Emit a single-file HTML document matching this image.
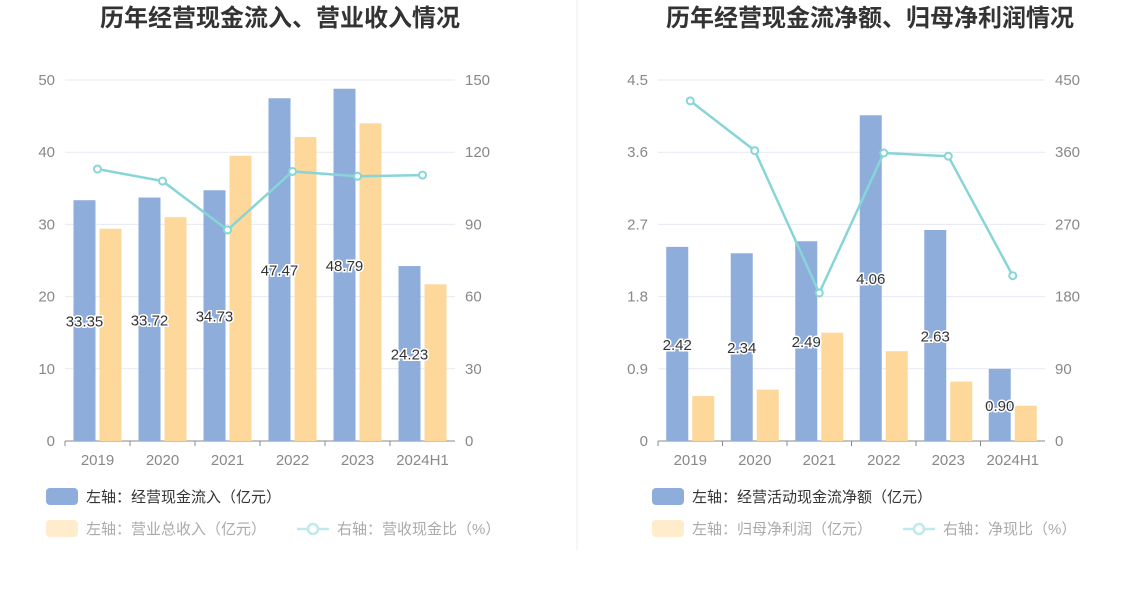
<!DOCTYPE html>
<html><head><meta charset="utf-8"><style>
body{margin:0;background:#fff;font-family:"Liberation Sans","Noto Sans CJK SC",sans-serif;}
svg{display:block}
</style></head><body>
<svg id="s" width="1147" height="589" xmlns="http://www.w3.org/2000/svg"></svg>
<script>
const cats=["2019","2020","2021","2022","2023","2024H1"];
const leftBlue=[33.35,33.72,34.73,47.47,48.79,24.23];
const leftYellow=[29.4,31.0,39.5,42.1,44.0,21.7];
const leftLine=[113,108,87.7,112,110,110.5];
const leftTicksL=["0","10","20","30","40","50"];
const leftTicksR=["0","30","60","90","120","150"];
const rightBlue=[2.42,2.34,2.49,4.06,2.63,0.90];
const rightYellow=[0.56,0.64,1.35,1.12,0.74,0.44];
const rightLine=[424,362,184.5,359,355,206];
const rightTicksL=["0","0.9","1.8","2.7","3.6","4.5"];
const rightTicksR=["0","90","180","270","360","450"];
const S=document.getElementById('s');const NS="http://www.w3.org/2000/svg";
function el(t,a,p){const e=document.createElementNS(NS,t);for(const k in a)e.setAttribute(k,a[k]);(p||S).appendChild(e);return e;}
function txt(x,y,s,a){const e=el('text',Object.assign({x:x,y:y},a));e.textContent=s;return e;}
const dv=el('line',{x1:577,y1:0,x2:577,y2:550,stroke:'#eee'});

function chart(o){
 const g=el('g',{});
 
 const y0=441,y1=80,L=o.x0,R=o.x1,bw=(R-L)/cats.length;
 const maxL=o.maxL,maxR=o.maxR;
 const yL=v=>y0-(v/maxL)*(y0-y1),yR=v=>y0-(v/maxR)*(y0-y1);
 const t=txt(o.tx,26,o.title,{'text-anchor':'middle','font-size':24,'font-weight':'bold',fill:'#333'},g);
 
 o.tl.forEach((s,i)=>{const y=y0-i*(y0-y1)/5;
  if(i>0){const gl=el('line',{x1:L,y1:y,x2:R,y2:y,stroke:'#e6e9f2'},g);}
  const a=txt(L-10,y+5,s,{'text-anchor':'end','font-size':15,fill:'#888'},g);
  const b=txt(R+10,y+5,o.tr[i],{'text-anchor':'start','font-size':15,fill:'#888'},g);
 });
 const ax=el('line',{x1:L,y1:y0,x2:R,y2:y0,stroke:'#888'},g);
 cats.forEach((c,i)=>{const cx=L+bw*(i+0.5);
  const tk=el('line',{x1:L+bw*i,y1:y0,x2:L+bw*i,y2:y0+5,stroke:'#888'},g);
  const xl=txt(cx,y0+24,c,{'text-anchor':'middle','font-size':15,fill:'#888'},g);
  const b=el('rect',{x:cx-24,y:yL(o.blue[i]),width:22,height:y0-yL(o.blue[i]),fill:'#8eaddb'},g);
  const yb=el('rect',{x:cx+2,y:yL(o.yellow[i]),width:22,height:y0-yL(o.yellow[i]),fill:'#fed89a'},g);
  const lb=txt(cx-13,(yL(o.blue[i])+y0)/2+6,o.blue[i].toFixed(2),{'text-anchor':'middle','font-size':15,fill:'#333',stroke:'#fff','stroke-width':3,'paint-order':'stroke'},g);
 });
 const pts=o.line.map((v,i)=>[L+bw*(i+0.5),yR(v)]);
 const pl=el('polyline',{points:pts.map(p=>p.join(',')).join(' '),fill:'none',stroke:'#88d5d7','stroke-width':2.5},g);
 pts.forEach(p=>{const c=el('circle',{cx:p[0],cy:p[1],r:3.5,fill:'#fff',stroke:'#88d5d7','stroke-width':2},g);});
 const lx=o.lgx;
 const r1=el('rect',{x:lx,y:488,width:32,height:17,rx:4,fill:'#8eaddb'},g);
 const t1=txt(lx+40,502,o.lg[0],{'font-size':15,fill:'#333'},g);
 const r2=el('rect',{x:lx,y:520,width:32,height:17,rx:4,fill:'#ffeccd'},g);
 const t2=txt(lx+40,534,o.lg[1],{'font-size':15,fill:'#aaa'},g);
 const ll=el('line',{x1:o.l3,y1:529,x2:o.l3+32,y2:529,stroke:'#bfe9ea','stroke-width':2.5},g);
 const lc=el('circle',{cx:o.l3+16,cy:529,r:5,fill:'#fff',stroke:'#bfe9ea','stroke-width':2.5},g);
 const t3=txt(o.l3+40,534,o.lg[2],{'font-size':15,fill:'#aaa'},g);
}
chart({name:'left-chart',x0:65,x1:455,maxL:50,maxR:150,tx:280,title:'历年经营现金流入、营业收入情况',tl:leftTicksL,tr:leftTicksR,blue:leftBlue,yellow:leftYellow,line:leftLine,lgx:46,l3:297,lg:['左轴：经营现金流入（亿元）','左轴：营业总收入（亿元）','右轴：营收现金比（%）']});
chart({name:'right-chart',x0:658,x1:1045,maxL:4.5,maxR:450,tx:870,title:'历年经营现金流净额、归母净利润情况',tl:rightTicksL,tr:rightTicksR,blue:rightBlue,yellow:rightYellow,line:rightLine,lgx:652,l3:903,lg:['左轴：经营活动现金流净额（亿元）','左轴：归母净利润（亿元）','右轴：净现比（%）']});
</script>
</body></html>
